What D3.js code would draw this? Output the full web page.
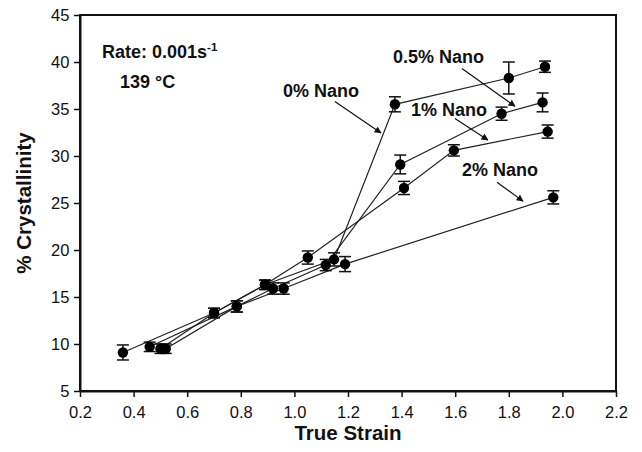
<!DOCTYPE html>
<html>
<head>
<meta charset="utf-8">
<script src="https://d3js.org/d3.v7.min.js"></script>
<style>
  body { margin: 0; background: #fff; }
  text { font-family: "Liberation Sans", Arial, sans-serif; }
</style>
</head>
<body>
<svg width="642" height="452"></svg>
<script>
// series data: true strain, % crystallinity, error half-height
const strain0  = [0.36, 0.70, 0.89, 1.148, 1.375, 1.80, 1.935];
const cryst0   = [9.1, 13.3, 16.3, 19.0, 35.5, 38.3, 39.5];
const err0     = [0.8, 0.5, 0.5, 0.7, 0.8, 1.7, 0.6];

const strain05 = [0.46, 0.785, 0.92, 1.117, 1.395, 1.773, 1.926];
const cryst05  = [9.7, 14.0, 15.9, 18.4, 29.1, 34.5, 35.7];
const err05    = [0.5, 0.6, 0.6, 0.6, 1.0, 0.7, 1.0];

const strain1  = [0.50, 0.70, 0.89, 1.05, 1.409, 1.595, 1.945];
const cryst1   = [9.5, 13.3, 16.3, 19.2, 26.6, 30.6, 32.6];
const err1     = [0.5, 0.5, 0.5, 0.7, 0.7, 0.6, 0.7];

const strain2  = [0.52, 0.785, 0.96, 1.189, 1.966];
const cryst2   = [9.5, 14.0, 15.9, 18.5, 25.6];
const err2     = [0.5, 0.6, 0.6, 0.8, 0.7];

const seriesNames = ["0% Nano", "0.5% Nano", "1% Nano", "2% Nano"];
const xTicks = [0.2, 0.4, 0.6, 0.8, 1.0, 1.2, 1.4, 1.6, 1.8, 2.0, 2.2];
const yTicks = [5, 10, 15, 20, 25, 30, 35, 40, 45];

// label text anchor and arrow (from -> to), in data units
const labelX = [0.957, 1.368, 1.435, 1.625];
const labelY = [36.3, 39.9, 34.3, 27.9];
const arrowX1 = [1.151, 1.625, 1.599, 1.756];
const arrowY1 = [35.8, 39.3, 34.0, 27.2];
const arrowX2 = [1.323, 1.823, 1.722, 1.853];
const arrowY2 = [32.45, 35.3, 31.7, 25.2];

const svg = d3.select("svg");
const margin = {top: 15, right: 26, bottom: 61, left: 80};
const width = 642 - margin.left - margin.right;
const height = 452 - margin.top - margin.bottom;

const x = d3.scaleLinear().domain([0.2, 2.2]).range([0, width]);
const y = d3.scaleLinear().domain([5, 45]).range([height, 0]);

const g = svg.append("g").attr("transform", `translate(${margin.left},${margin.top})`);

svg.append("defs").append("marker")
    .attr("id", "arrow")
    .attr("viewBox", "0 0 10 10")
    .attr("refX", 9).attr("refY", 5)
    .attr("markerWidth", 7).attr("markerHeight", 7)
    .attr("markerUnits", "userSpaceOnUse")
    .attr("orient", "auto")
  .append("path")
    .attr("d", "M0,0L10,5L0,10Z")
    .attr("fill", "#111");

// frame
g.append("rect")
    .attr("width", width).attr("height", height)
    .attr("fill", "none").attr("stroke", "#111").attr("stroke-width", 2);

const xAxis = g.append("g")
    .attr("transform", `translate(0,${height})`)
    .call(d3.axisBottom(x).tickValues(xTicks).tickFormat(d3.format(".1f")).tickSize(6).tickSizeOuter(0));
const yAxis = g.append("g")
    .call(d3.axisLeft(y).tickValues(yTicks).tickSize(6).tickSizeOuter(0));

[xAxis, yAxis].forEach(a => {
  a.select(".domain").attr("stroke", "#111").attr("stroke-width", 2);
  a.selectAll(".tick line").attr("stroke", "#111").attr("stroke-width", 1.5);
  a.selectAll(".tick text")
      .attr("fill", "#111")
      .style("font-size", "16.5px")
      .style("font-family", "'Liberation Sans', Arial, sans-serif");
});
xAxis.selectAll(".tick text").attr("dy", "1.1em");
yAxis.selectAll(".tick text").attr("dx", "-0.1em");

const series = [
  {name: seriesNames[0], xs: strain0, ys: cryst0, es: err0},
  {name: seriesNames[1], xs: strain05, ys: cryst05, es: err05},
  {name: seriesNames[2], xs: strain1, ys: cryst1, es: err1},
  {name: seriesNames[3], xs: strain2, ys: cryst2, es: err2}
].map(s => ({name: s.name, pts: s.xs.map((v, i) => ({x: v, y: s.ys[i], e: s.es[i]}))}));

const line = d3.line().x(d => x(d.x)).y(d => y(d.y));

g.selectAll(".series")
  .data(series)
  .join("path")
    .attr("class", "series")
    .attr("d", d => line(d.pts))
    .attr("fill", "none")
    .attr("stroke", "#222")
    .attr("stroke-width", 1.2);

const allPts = series.flatMap(s => s.pts);
const cap = 6;
const eb = g.append("g").attr("stroke", "#111").attr("stroke-width", 1.5);
eb.selectAll(".ev").data(allPts).join("line")
    .attr("x1", d => x(d.x)).attr("x2", d => x(d.x))
    .attr("y1", d => y(d.y - d.e)).attr("y2", d => y(d.y + d.e));
eb.selectAll(".ct").data(allPts).join("line")
    .attr("x1", d => x(d.x) - cap).attr("x2", d => x(d.x) + cap)
    .attr("y1", d => y(d.y + d.e)).attr("y2", d => y(d.y + d.e));
eb.selectAll(".cb").data(allPts).join("line")
    .attr("x1", d => x(d.x) - cap).attr("x2", d => x(d.x) + cap)
    .attr("y1", d => y(d.y - d.e)).attr("y2", d => y(d.y - d.e));

g.selectAll(".dot").data(allPts).join("circle")
    .attr("cx", d => x(d.x)).attr("cy", d => y(d.y))
    .attr("r", 5.2).attr("fill", "#000");

// series labels with arrows
seriesNames.forEach((name, i) => {
  g.append("text")
      .attr("x", x(labelX[i])).attr("y", y(labelY[i]))
      .attr("font-size", 18).attr("font-weight", "bold").attr("fill", "#111")
      .text(name);
  g.append("line")
      .attr("x1", x(arrowX1[i])).attr("y1", y(arrowY1[i]))
      .attr("x2", x(arrowX2[i])).attr("y2", y(arrowY2[i]))
      .attr("stroke", "#111").attr("stroke-width", 1.2)
      .attr("marker-end", "url(#arrow)");
});

// conditions
const rate = g.append("text")
    .attr("x", x(0.282)).attr("y", y(40.4))
    .attr("font-size", 18).attr("font-weight", "bold").attr("fill", "#111");
rate.append("tspan").text("Rate: 0.001s");
rate.append("tspan").attr("dy", -7).attr("font-size", 11.5).text("-1");

g.append("text")
    .attr("x", x(0.349)).attr("y", y(37.2))
    .attr("font-size", 18).attr("font-weight", "bold").attr("fill", "#111")
    .text("139 °C");

// axis titles
svg.append("text")
    .attr("x", margin.left + width / 2).attr("y", 440)
    .attr("text-anchor", "middle")
    .attr("font-size", 20.5).attr("font-weight", "bold").attr("fill", "#111")
    .text("True Strain");

svg.append("text")
    .attr("transform", `translate(31,${margin.top + height / 2}) rotate(-90)`)
    .attr("text-anchor", "middle")
    .attr("font-size", 20.5).attr("font-weight", "bold").attr("fill", "#111")
    .text("% Crystallinity");
</script>
</body>
</html>
